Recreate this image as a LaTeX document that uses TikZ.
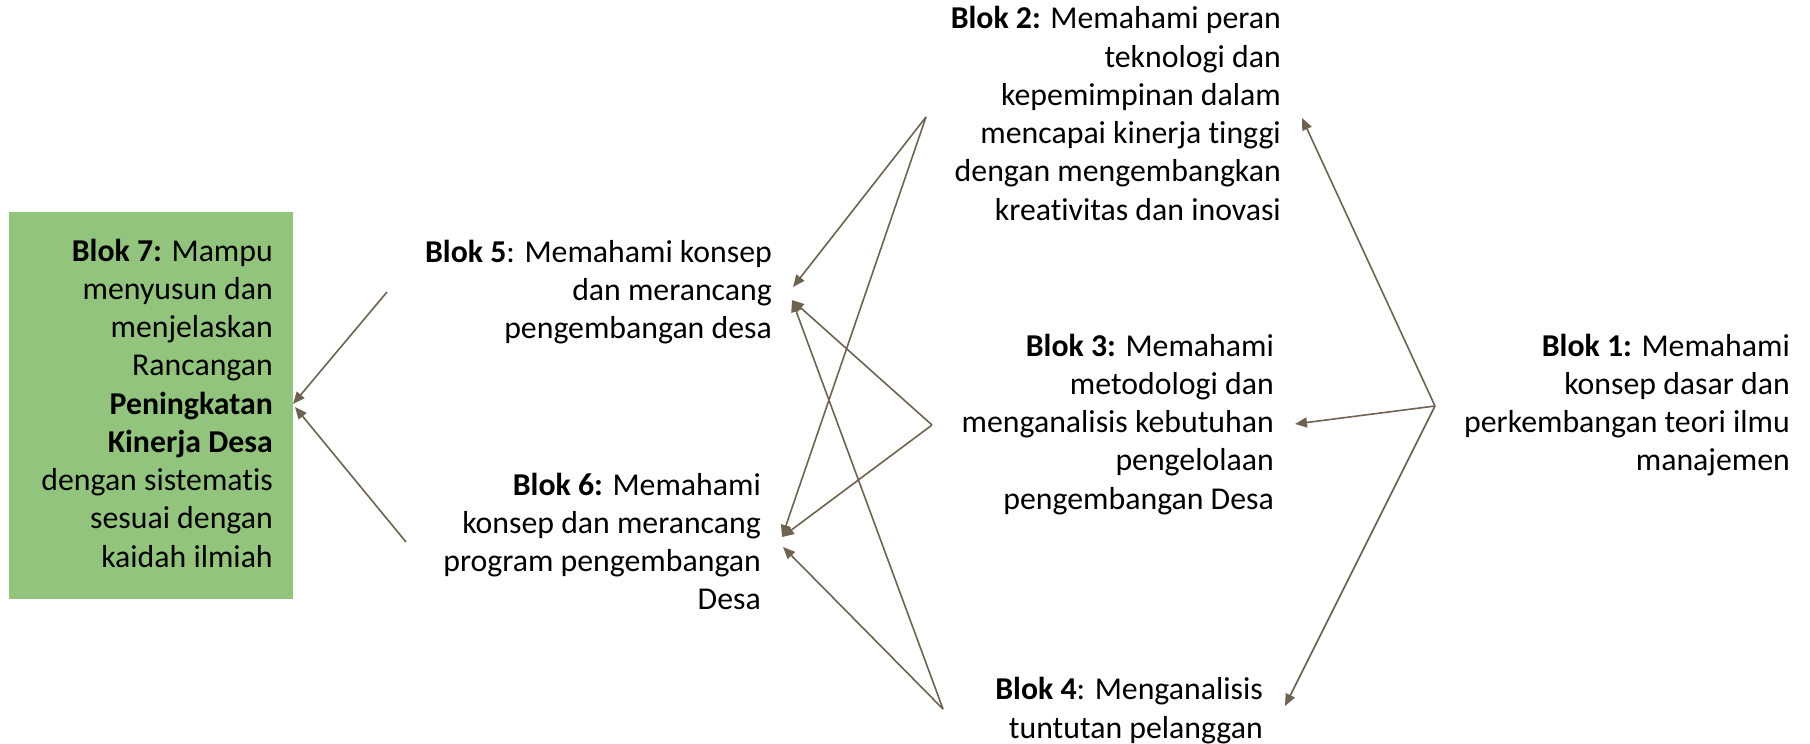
\documentclass[tikz,border=0pt]{standalone}
\usepackage{fontspec}
\setmainfont{Carlito}[Ligatures=NoCommon]
\usetikzlibrary{arrows.meta}
\definecolor{boxgreen}{RGB}{147,196,125}
\definecolor{linebrown}{RGB}{110,98,80}
\tikzset{
  txt/.style={anchor=base east, align=right, inner sep=0pt, font=\fontsize{31.8}{38.25}\selectfont},
  conn/.style={draw=linebrown, line width=1.6pt, -{Triangle[length=12pt,width=10pt]}},
}
\begin{document}
\begin{tikzpicture}[x=1pt,y=-1pt]
\useasboundingbox (0,0) rectangle (1810,744);
% green box
\node[fill=boxgreen, minimum width=284pt, minimum height=387pt, inner sep=0pt, anchor=north west] (box7) at (9,212) {};
% text blocks (anchored at the baseline of their last line)
\node[txt] (b7) at (273,567) {\textbf{Blok 7:} Mampu\\ menyusun dan\\ menjelaskan\\ Rancangan\\ \textbf{Peningkatan}\\ \textbf{Kinerja Desa}\\ dengan sistematis\\ sesuai dengan\\ kaidah ilmiah};
\node[txt] (b5) at (772,338.5) {\textbf{Blok 5}: Memahami konsep\\ dan merancang\\ pengembangan desa};
\node[txt] (b6) at (761,609.75) {\textbf{Blok 6:} Memahami\\ konsep dan merancang\\ program pengembangan\\ Desa};
\node[txt] (b2) at (1281,220) {\textbf{Blok 2:} Memahami peran\\ teknologi dan\\ kepemimpinan dalam\\ mencapai kinerja tinggi\\ dengan mengembangkan\\ kreativitas dan inovasi};
\node[txt] (b3) at (1274,509) {\textbf{Blok 3:} Memahami\\ metodologi dan\\ menganalisis kebutuhan\\ pengelolaan\\ pengembangan Desa};
\node[txt] (b4) at (1263,738) {\textbf{Blok 4}: Menganalisis\\ tuntutan pelanggan};
\node[txt] (b1) at (1790,470.75) {\textbf{Blok 1:} Memahami\\ konsep dasar dan\\ perkembangan teori ilmu\\ manajemen};
% connector points
\coordinate (v1) at (1435,406);
\coordinate (v2) at (926,117);
\coordinate (v3) at (932,425);
\coordinate (v4) at (943,709);
\coordinate (in2) at (1302,118);
\coordinate (in3) at (1295,424);
\coordinate (in4) at (1285,706);
\coordinate (in5a) at (793,287);
\coordinate (in5b) at (792,300);
\coordinate (in6a) at (782,537);
\coordinate (in6b) at (783,547);
\coordinate (s5) at (387,292);
\coordinate (s6) at (406,542);
\coordinate (in7a) at (293,404);
\coordinate (in7b) at (295,407);
% connectors
\draw[conn] (v1) -- (in2);
\draw[conn] (v1) -- (in3);
\draw[conn] (v1) -- (in4);
\draw[conn] (v2) -- (in5a);
\draw[conn] (v2) -- (in6a);
\draw[conn] (v3) -- (in5b);
\draw[conn] (v3) -- (in6a);
\draw[conn] (v4) -- (in5b);
\draw[conn] (v4) -- (in6b);
\draw[conn] (s5) -- (in7a);
\draw[conn] (s6) -- (in7b);
\end{tikzpicture}
\end{document}
